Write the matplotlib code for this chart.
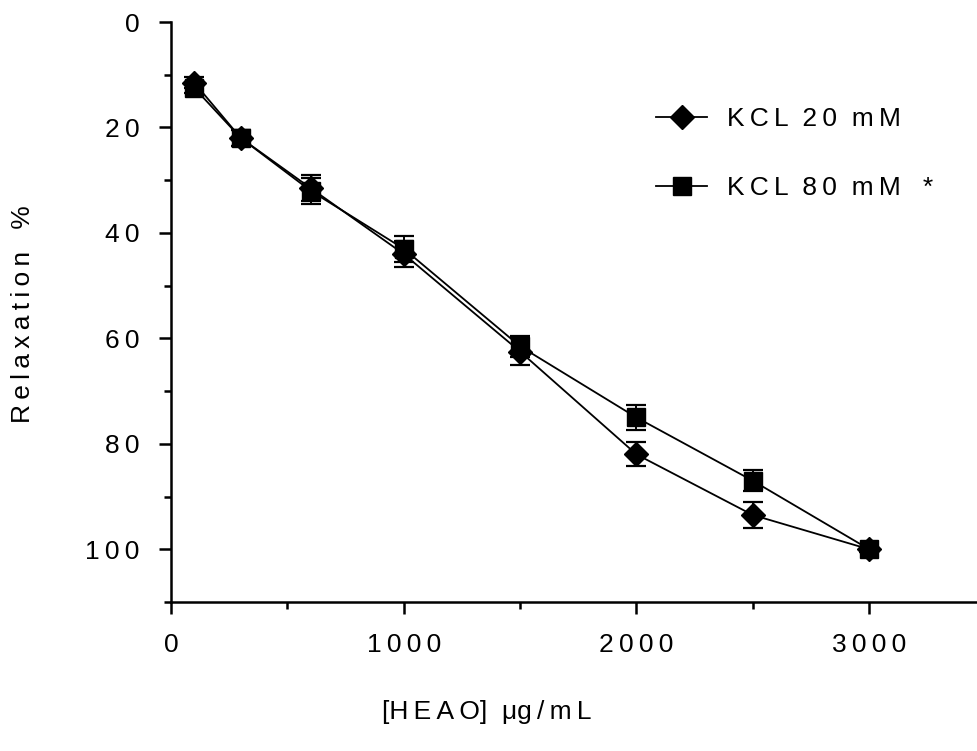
import numpy as np
import matplotlib.pyplot as plt
from matplotlib.lines import Line2D

plt.rcParams['font.family'] = ['Liberation Sans', 'DejaVu Sans']

# concentrations (ug/mL)
conc = [100, 300, 600, 1000, 1500, 2000, 2500, 3000]
# KCL 20 mM  (diamonds)
kcl20 = [11.5, 22.0, 31.5, 44.0, 62.5, 82.0, 93.5, 100.0]
kcl20_err = [1.0, 1.5, 2.5, 2.5, 2.5, 2.3, 2.4, 0.5]
# KCL 80 mM  (squares)
kcl80 = [12.5, 22.0, 32.0, 43.0, 61.5, 75.0, 87.0, 100.0]
kcl80_err = [1.0, 1.5, 2.5, 2.5, 2.0, 2.3, 2.0, 0.5]

x_ticks = [0, 1000, 2000, 3000]
y_ticks = [0, 20, 40, 60, 80, 100]

FS = 19


def spaced(s):
    # wide letter spacing like the original graph software
    return '\u2009'.join(s)


fig = plt.figure(figsize=(9.77, 7.51), dpi=100)
ax = fig.add_axes([0.175, 0.1984, 0.8337, 0.7723])

ax.errorbar(conc, kcl20, yerr=kcl20_err, color='black', lw=1.3, marker='D', ms=12,
            capsize=7.5, capthick=1.6, elinewidth=1.4, zorder=3)
ax.errorbar(conc, kcl80, yerr=kcl80_err, color='black', lw=1.3, marker='s', ms=12.5,
            capsize=7.5, capthick=1.6, elinewidth=1.4, zorder=4)

ax.set_xlim(0, 3500)
ax.set_ylim(110, 0)

ax.set_xticks(x_ticks)
ax.set_xticklabels([spaced(str(v)) for v in x_ticks])
ax.set_xticks([500, 1500, 2500], minor=True)
ax.set_yticks(y_ticks)
ax.set_yticklabels([spaced(str(v)) for v in y_ticks])
ax.set_yticks([10, 30, 50, 70, 90, 110], minor=True)

for side in ['top', 'right']:
    ax.spines[side].set_visible(False)
for side in ['left', 'bottom']:
    ax.spines[side].set_linewidth(1.8)
ax.tick_params(which='major', length=8.5, width=1.8, labelsize=FS)
ax.tick_params(which='minor', length=5, width=1.8)
ax.tick_params(axis='x', pad=14)
ax.tick_params(axis='y', pad=14)

fig.text(0.024, 0.582, spaced('Relaxation') + '   %', rotation=90,
         ha='center', va='center', fontsize=FS)
fig.text(0.498, 0.052, '[' + spaced('HEAO') + ']  \u03bc' + spaced('g/mL'),
         ha='center', va='center', fontsize=FS)

handles = [Line2D([], [], color='black', lw=1.3, marker='D', ms=12),
           Line2D([], [], color='black', lw=1.3, marker='s', ms=12.5)]
labels = [spaced('KCL') + '  ' + spaced('20') + '  ' + spaced('mM'),
          spaced('KCL') + '  ' + spaced('80') + '  ' + spaced('mM') + '   *']
ax.legend(handles, labels, frameon=False, fontsize=FS, loc='upper left',
          bbox_to_anchor=(0.596, 0.853), handlelength=1.9, handletextpad=0.76,
          labelspacing=1.7, borderpad=0, borderaxespad=0)

fig.savefig('out.png', dpi=100)
